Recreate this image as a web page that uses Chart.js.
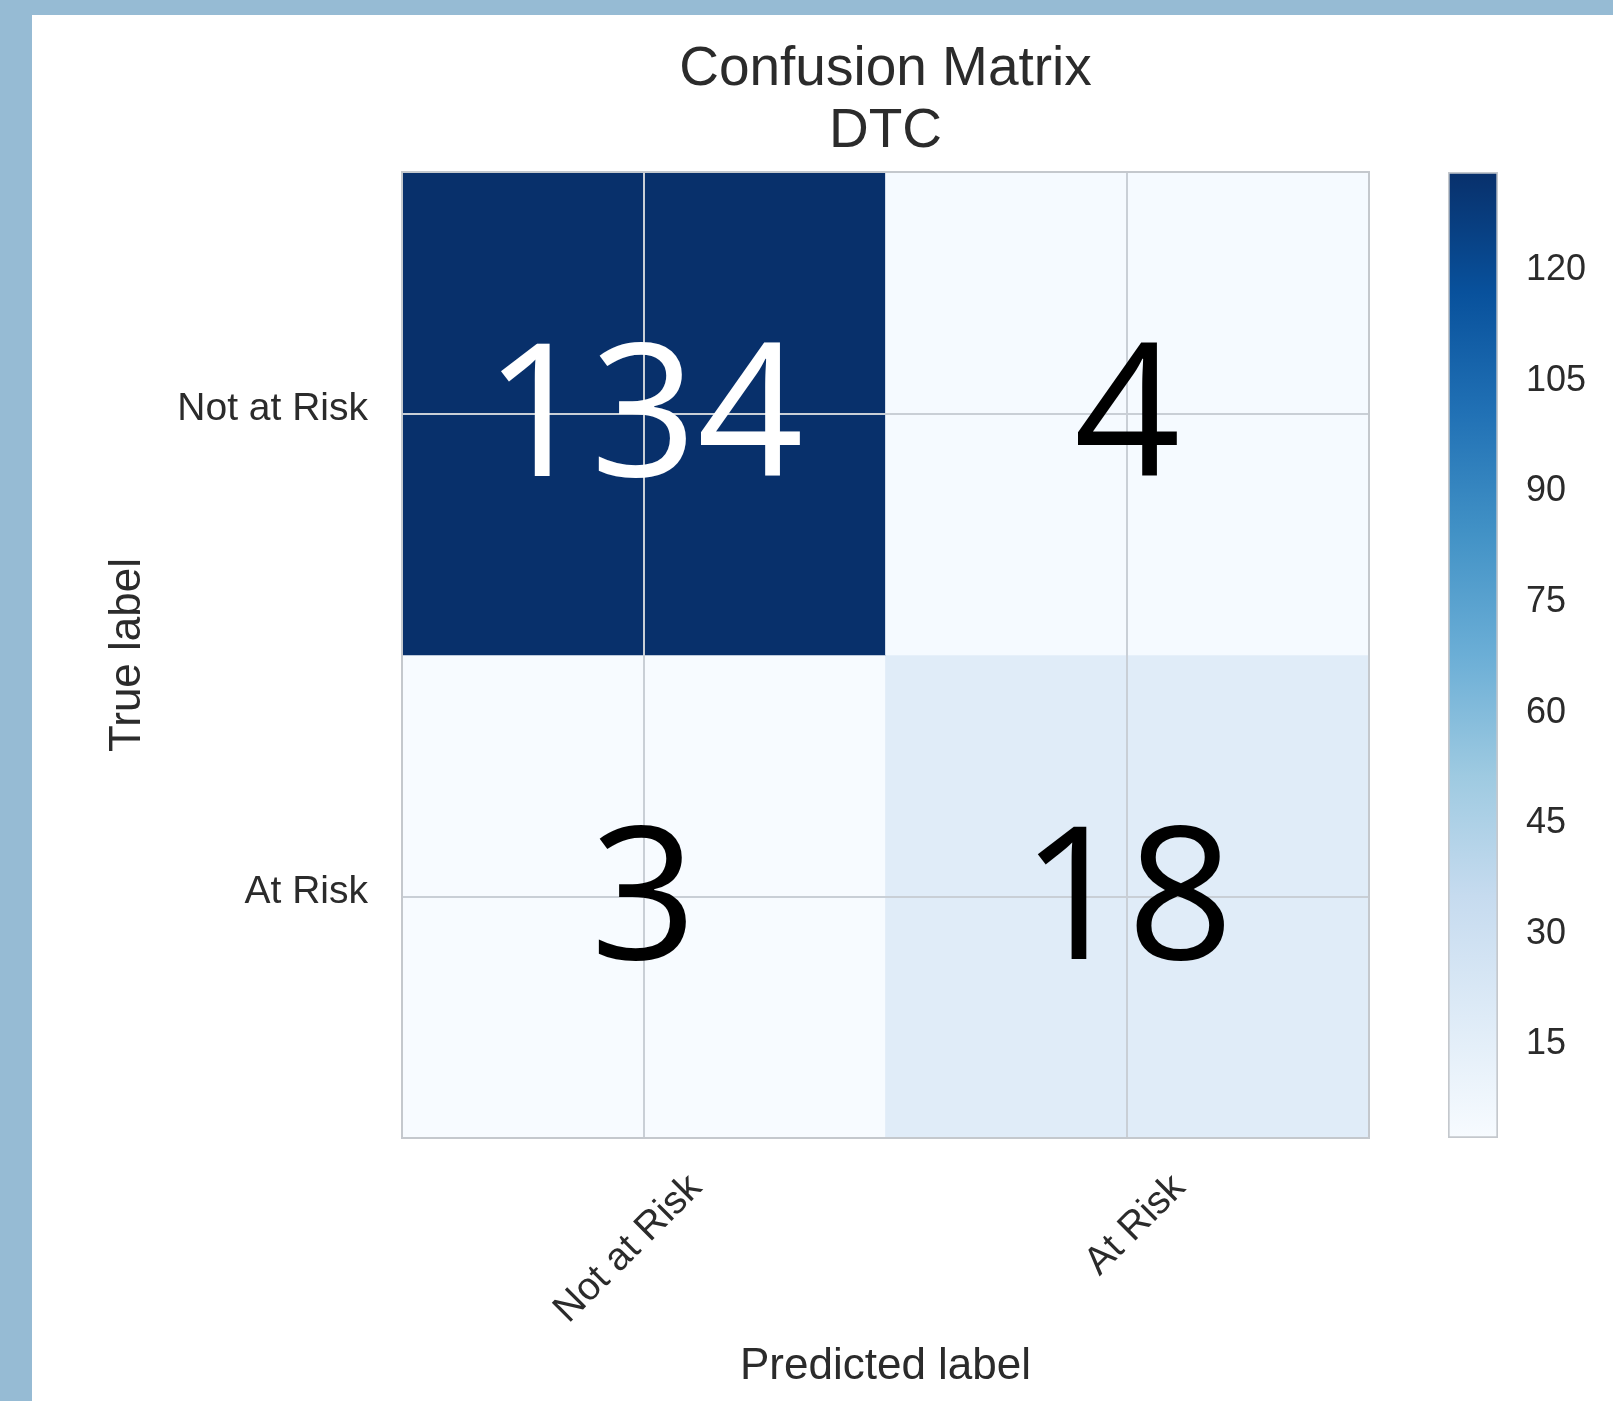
<!DOCTYPE html>
<html><head><meta charset="utf-8">
<script src="https://cdn.jsdelivr.net/npm/chart.js@4.4.1/dist/chart.umd.min.js"></script>
<style>
html,body{margin:0;padding:0;}
body{width:1613px;height:1401px;background:#96bbd4;position:relative;overflow:hidden;}
#panel{position:absolute;left:32px;top:15px;right:0;bottom:0;background:#ffffff;}
#main{position:absolute;left:0;top:0;}
#cbar{position:absolute;left:1380px;top:0;}
</style></head><body>
<div id="panel"></div>
<canvas id="main" width="1613" height="1401"></canvas>
<canvas id="cbar" width="233" height="1401"></canvas>
<script>
// ---- data ----
const titleLines = ['Confusion Matrix', 'DTC'];
const predictedLabels = ['Not at Risk', 'At Risk'];
const trueLabels = ['Not at Risk', 'At Risk'];
const rowNotAtRisk = [134, 4];
const rowAtRisk = [3, 18];
const colorbarTicks = [15, 30, 45, 60, 75, 90, 105, 120];
const xAxisTitle = 'Predicted label';
const yAxisTitle = 'True label';

// ---- styling ----
const FAMILY = '"Liberation Sans", Arial, sans-serif';
const NUM_FAMILY = '"Open Sans", sans-serif';
const TEXT = '#2b2b2b';
const GRID = '#c9cfd6';
const FRAME = '#c4c8cd';
const BLUES = ['#f7fbff','#deebf7','#c6dbef','#9ecae1','#6baed6','#4292c6','#2171b5','#08519c','#08306b'];

const rows = [rowNotAtRisk, rowAtRisk];
const allVals = rows.flat();
const vmin = Math.min(...allVals), vmax = Math.max(...allVals);

function hexToRgb(h){ const n = parseInt(h.slice(1),16); return [(n>>16)&255,(n>>8)&255,n&255]; }
function blues(t){
  t = Math.max(0, Math.min(1, t));
  const s = t*(BLUES.length-1), i = Math.min(Math.floor(s), BLUES.length-2), f = s - i;
  const a = hexToRgb(BLUES[i]), b = hexToRgb(BLUES[i+1]);
  const c = a.map((x,k)=>Math.round(x + (b[k]-x)*f));
  return `rgb(${c[0]},${c[1]},${c[2]})`;
}
function colorFor(v){ return blues((v - vmin)/(vmax - vmin)); }

const frame = {
  id: 'frame',
  afterDraw(chart){
    const a = chart.chartArea, ctx = chart.ctx;
    ctx.save();
    ctx.strokeStyle = FRAME; ctx.lineWidth = 2;
    ctx.strokeRect(a.left, a.top, a.right - a.left, a.bottom - a.top);
    ctx.restore();
  }
};
const cellText = {
  id: 'cellText',
  afterDraw(chart){
    const ctx = chart.ctx, fs = 186;
    ctx.save();
    ctx.font = `${fs}px ${NUM_FAMILY}`;
    ctx.textAlign = 'center'; ctx.textBaseline = 'alphabetic';
    chart.data.datasets.forEach((ds, di) => {
      chart.getDatasetMeta(di).data.forEach((el, i) => {
        const v = ds.values[i];
        const cy = (el.y + el.base) / 2;
        ctx.fillStyle = (v - vmin)/(vmax - vmin) > 0.5 ? '#ffffff' : '#000000';
        ctx.fillText(String(v), el.x, cy + 0.335*fs);
      });
    });
    ctx.restore();
  }
};

const datasets = rows.map((vals, r) => ({
  label: trueLabels[r],
  data: vals.map(() => [r, r + 1]),
  values: vals,
  backgroundColor: vals.map(colorFor),
  borderWidth: 0,
  barPercentage: 1,
  categoryPercentage: 1,
  grouped: false
}));

new Chart(document.getElementById('main'), {
  type: 'bar',
  data: { labels: predictedLabels, datasets },
  plugins: [frame, cellText],
  options: {
    responsive: false, animation: false, devicePixelRatio: 1,
    layout: { padding: { left: 60, right: 244, top: 39, bottom: 0 } },
    plugins: {
      legend: { display: false },
      tooltip: { enabled: false },
      title: {
        display: true, text: titleLines, color: TEXT, fullSize: false,
        font: { family: FAMILY, size: 55, weight: 'normal', lineHeight: 62/55 },
        padding: { top: 0, bottom: 9 }
      }
    },
    scales: {
      x: {
        type: 'category', offset: true, z: 1,
        grid: { offset: false, color: GRID, lineWidth: 2, drawTicks: false, z: 1 },
        border: { display: false },
        ticks: { color: TEXT, font: { family: FAMILY, size: 39 }, minRotation: 45, maxRotation: 45,
                 labelOffset: 52, padding: 27, autoSkip: false },
        title: { display: true, text: xAxisTitle, color: TEXT, font: { family: FAMILY, size: 44 },
                 padding: { top: 0, bottom: 8 } },
        afterFit(s){ s.height = 1401 - 1138; }
      },
      y: {
        type: 'linear', min: 0, max: trueLabels.length, reverse: true, z: 1,
        afterBuildTicks(s){ s.ticks = trueLabels.map((_, i) => ({ value: i + 0.5 })); },
        grid: { color: GRID, lineWidth: 2, drawTicks: false, z: 1 },
        border: { display: false },
        ticks: { color: TEXT, font: { family: FAMILY, size: 39 }, padding: 34, labelOffset: -4,
                 callback: (v) => trueLabels[Math.floor(v)] },
        title: { display: true, text: yAxisTitle, color: TEXT, font: { family: FAMILY, size: 44 },
                 padding: { top: 41, bottom: 0 } },
        afterFit(s){ s.width = 402 - 60; }
      }
    }
  }
});

new Chart(document.getElementById('cbar'), {
  type: 'bar',
  data: {
    labels: [''],
    datasets: [{
      data: [[vmin, vmax]],
      backgroundColor(ctx){
        const area = ctx.chart.chartArea;
        if (!area) return BLUES[0];
        const g = ctx.chart.ctx.createLinearGradient(0, area.bottom, 0, area.top);
        BLUES.forEach((c, i) => g.addColorStop(i/(BLUES.length-1), c));
        return g;
      },
      borderColor: FRAME, borderWidth: 2, borderSkipped: false,
      barPercentage: 1, categoryPercentage: 1
    }]
  },
  options: {
    responsive: false, animation: false, devicePixelRatio: 1,
    layout: { padding: { left: 68, right: 0, top: 172, bottom: 1401 - 1138 } },
    plugins: { legend: { display: false }, tooltip: { enabled: false } },
    scales: {
      x: { display: false },
      y: {
        position: 'right', min: vmin, max: vmax,
        afterBuildTicks(s){ s.ticks = colorbarTicks.map(v => ({ value: v })); },
        grid: { display: false, drawTicks: false },
        border: { display: false },
        ticks: { color: TEXT, font: { family: FAMILY, size: 36 }, padding: 28, labelOffset: -5 },
        afterFit(s){ s.width = 233 - 68 - 50; }
      }
    }
  }
});
</script>
</body></html>
